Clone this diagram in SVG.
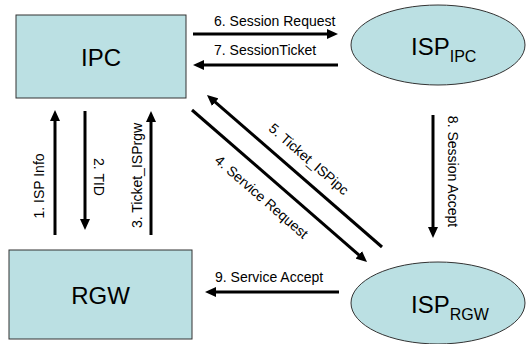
<svg xmlns="http://www.w3.org/2000/svg" width="526" height="344" viewBox="0 0 526 344">
<style>
  .box { fill: #bbe0e3; stroke: #333333; stroke-width: 1; }
  .lbl { font-family: "Liberation Sans", Arial, sans-serif; fill: #000000; }
  .big { font-size: 24px; }
  .sub { font-size: 16px; }
  .msg { font-size: 14px; }
  .conn line { stroke: #000000; stroke-width: 3; marker-end: url(#arrow); }
</style>
<defs>
  <marker id="arrow" viewBox="0 0 11 10" markerWidth="11" markerHeight="10" refX="5" refY="5" markerUnits="userSpaceOnUse" orient="auto">
    <path d="M0,0 L11,5 L0,10 Z" fill="#000000"/>
  </marker>
</defs>
<rect width="526" height="344" fill="#ffffff"/>

<g id="IPC">
  <rect class="box" x="16" y="15" width="170" height="83"/>
  <text class="lbl big" x="101" y="66" text-anchor="middle">IPC</text>
</g>
<g id="RGW">
  <rect class="box" x="9" y="250" width="183" height="89"/>
  <text class="lbl big" x="100.5" y="304" text-anchor="middle">RGW</text>
</g>
<g id="ISP_IPC">
  <ellipse class="box" cx="438" cy="45" rx="87" ry="40"/>
  <text class="lbl big" x="411" y="55">ISP<tspan class="sub" dy="7">IPC</tspan></text>
</g>
<g id="ISP_RGW">
  <ellipse class="box" cx="438" cy="303" rx="87" ry="41"/>
  <text class="lbl big" x="411" y="313">ISP<tspan class="sub" dy="7">RGW</tspan></text>
</g>

<g id="connectors" class="conn">
  <line x1="55" y1="235" x2="55" y2="116"/>
  <line x1="85" y1="111" x2="85" y2="224"/>
  <line x1="151" y1="235" x2="151" y2="117"/>
  <line x1="192" y1="110" x2="362.5" y2="258.1"/>
  <line x1="382" y1="247" x2="211.5" y2="98.9"/>
  <line x1="193" y1="34" x2="332" y2="34"/>
  <line x1="338" y1="65" x2="199" y2="65"/>
  <line x1="433" y1="115" x2="433" y2="232"/>
  <line x1="339" y1="292" x2="211" y2="292"/>
</g>

<g id="labels">
  <text class="lbl msg" text-anchor="middle" transform="translate(44,186) rotate(-90)">1. ISP Info</text>
  <text class="lbl msg" text-anchor="middle" transform="translate(93.5,177) rotate(90)">2. TID</text>
  <text class="lbl msg" text-anchor="middle" transform="translate(141.5,175.5) rotate(-90)">3. Ticket_ISPrgw</text>
  <text class="lbl msg" text-anchor="middle" transform="translate(258.4,200.5) rotate(41)">4. Service Request</text>
  <text class="lbl msg" text-anchor="middle" transform="translate(305.7,162.8) rotate(41)">5. Ticket_ISPipc</text>
  <text class="lbl msg" x="214" y="26">6. Session Request</text>
  <text class="lbl msg" x="214" y="55">7. SessionTicket</text>
  <text class="lbl msg" text-anchor="middle" transform="translate(447.5,171.5) rotate(90)">8. Session Accept</text>
  <text class="lbl msg" x="215" y="282">9. Service Accept</text>
</g>
</svg>
